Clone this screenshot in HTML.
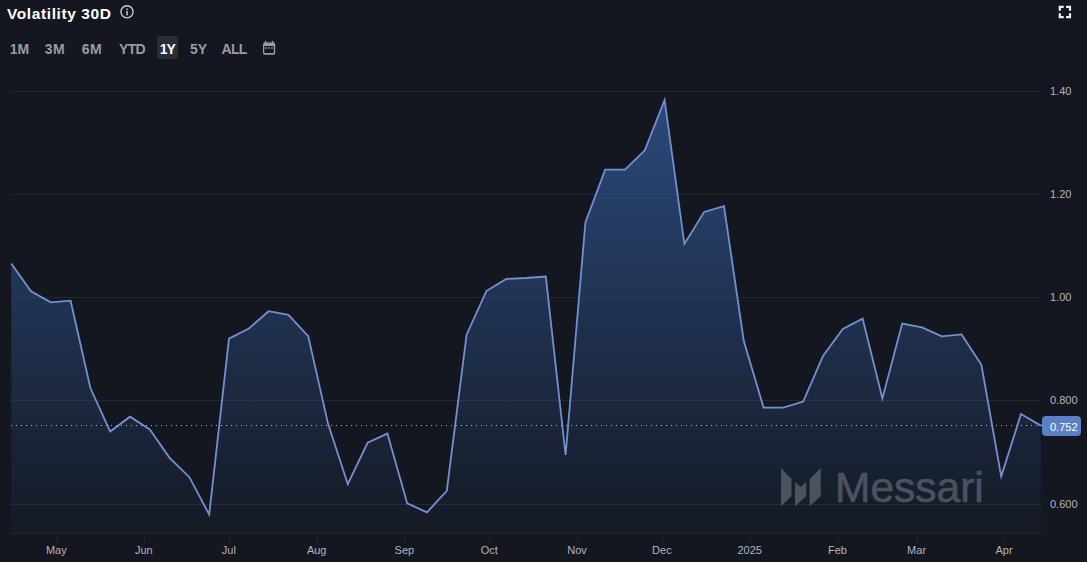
<!DOCTYPE html>
<html><head><meta charset="utf-8">
<style>
html,body{margin:0;padding:0;background:#14171f;}
body{width:1087px;height:562px;overflow:hidden;position:relative;font-family:"Liberation Sans",sans-serif;}
.title{position:absolute;left:7px;top:5px;font-size:15.5px;letter-spacing:0.6px;font-weight:bold;color:#ffffff;line-height:18px;white-space:nowrap;}
.info{position:absolute;left:120px;top:5px;}
.rb{position:absolute;top:38px;height:23px;line-height:23px;font-size:14px;font-weight:bold;color:#9a9ca3;text-align:center;}
.rb.act{color:#ffffff;}
.actbg{position:absolute;left:157px;top:36px;width:21px;height:23px;background:#2a2d35;border-radius:3px;}
.yl{position:absolute;left:1050px;font-size:11px;line-height:15px;color:#b2b5be;}
.xl{position:absolute;top:542.5px;width:60px;text-align:center;font-size:11px;line-height:15px;color:#b2b5be;}
.lbl{position:absolute;left:1042px;top:416px;width:39px;height:20px;border-radius:4px;background:#5b80c6;}
.lblt{position:absolute;left:1050px;top:419.5px;color:#fff;font-size:11px;line-height:15px;}
svg{position:absolute;left:0;top:0;}
.wm{position:absolute;left:835px;top:464px;font-size:42.5px;line-height:48px;color:#4a5260;-webkit-text-stroke:0.6px #4a5260;}
</style></head><body>
<svg width="1087" height="562">
<defs>
<linearGradient id="g" x1="0" y1="66" x2="0" y2="534" gradientUnits="userSpaceOnUse">
<stop offset="0" stop-color="#325a99" stop-opacity="0.8"/>
<stop offset="1" stop-color="#325a99" stop-opacity="0.04"/>
</linearGradient>
</defs>
<line x1="11" y1="91.5" x2="1041" y2="91.5" stroke="#252830" stroke-width="1"/><line x1="11" y1="194.5" x2="1041" y2="194.5" stroke="#252830" stroke-width="1"/><line x1="11" y1="297.5" x2="1041" y2="297.5" stroke="#252830" stroke-width="1"/><line x1="11" y1="400.5" x2="1041" y2="400.5" stroke="#252830" stroke-width="1"/><line x1="11" y1="504.5" x2="1041" y2="504.5" stroke="#252830" stroke-width="1"/>
<path d="M11.2,534 L11.2,263.5 L31.0,291.2 L50.8,302.4 L70.6,300.7 L90.4,388.0 L110.2,431.5 L130.0,416.7 L149.8,429.4 L169.6,457.8 L189.4,477.2 L209.2,514.6 L229.0,338.6 L248.8,328.6 L268.6,311.2 L288.4,314.9 L308.2,336.1 L328.0,423.6 L347.8,484.2 L367.6,442.8 L387.4,433.6 L407.2,503.4 L427.0,512.3 L446.8,490.9 L466.6,334.7 L486.4,291.1 L506.2,278.9 L526.0,278.0 L545.8,276.5 L565.6,455.0 L585.4,222.5 L605.2,169.7 L625.0,169.7 L644.8,150.3 L664.6,100.0 L684.4,244.0 L704.2,211.9 L724.0,206.2 L743.8,341.1 L763.6,407.6 L783.4,407.6 L803.2,401.6 L823.0,356.0 L842.8,329.0 L862.6,318.6 L882.4,398.4 L902.2,323.6 L922.0,327.4 L941.8,336.4 L961.6,334.4 L981.4,364.8 L1001.2,476.5 L1021.0,414.0 L1040.8,425.6 L1040.8,534 Z" fill="url(#g)"/>
<line x1="1041" y1="534.5" x2="1041" y2="534.5" stroke="#2a2e37"/>
<line x1="11" y1="533.5" x2="1041" y2="533.5" stroke="#20242c" stroke-width="1"/>
<line x1="56.9" y1="536" x2="56.9" y2="543" stroke="#23272f" stroke-width="1"/><line x1="144.4" y1="536" x2="144.4" y2="543" stroke="#23272f" stroke-width="1"/><line x1="229.4" y1="536" x2="229.4" y2="543" stroke="#23272f" stroke-width="1"/><line x1="317.3" y1="536" x2="317.3" y2="543" stroke="#23272f" stroke-width="1"/><line x1="405.0" y1="536" x2="405.0" y2="543" stroke="#23272f" stroke-width="1"/><line x1="489.9" y1="536" x2="489.9" y2="543" stroke="#23272f" stroke-width="1"/><line x1="577.6" y1="536" x2="577.6" y2="543" stroke="#23272f" stroke-width="1"/><line x1="662.5" y1="536" x2="662.5" y2="543" stroke="#23272f" stroke-width="1"/><line x1="750.3" y1="536" x2="750.3" y2="543" stroke="#23272f" stroke-width="1"/><line x1="838.0" y1="536" x2="838.0" y2="543" stroke="#23272f" stroke-width="1"/><line x1="917.2" y1="536" x2="917.2" y2="543" stroke="#23272f" stroke-width="1"/><line x1="1004.6" y1="536" x2="1004.6" y2="543" stroke="#23272f" stroke-width="1"/>
<g fill="#4b5361">
<path d="M781,468 L791.5,479 L791.5,496 L781,506.5 Z"/>
<path d="M795,482 L800.6,487 L806.2,482 L806.2,496 L795,506.5 Z"/>
<path d="M809.6,479 L820.7,468 L820.7,496 L809.6,506.5 Z"/>
</g>
<path d="M11,425.5 H1041" stroke="#a8b0c2" stroke-width="1" stroke-dasharray="1 4"/>
<polyline points="11.2,263.5 31.0,291.2 50.8,302.4 70.6,300.7 90.4,388.0 110.2,431.5 130.0,416.7 149.8,429.4 169.6,457.8 189.4,477.2 209.2,514.6 229.0,338.6 248.8,328.6 268.6,311.2 288.4,314.9 308.2,336.1 328.0,423.6 347.8,484.2 367.6,442.8 387.4,433.6 407.2,503.4 427.0,512.3 446.8,490.9 466.6,334.7 486.4,291.1 506.2,278.9 526.0,278.0 545.8,276.5 565.6,455.0 585.4,222.5 605.2,169.7 625.0,169.7 644.8,150.3 664.6,100.0 684.4,244.0 704.2,211.9 724.0,206.2 743.8,341.1 763.6,407.6 783.4,407.6 803.2,401.6 823.0,356.0 842.8,329.0 862.6,318.6 882.4,398.4 902.2,323.6 922.0,327.4 941.8,336.4 961.6,334.4 981.4,364.8 1001.2,476.5 1021.0,414.0 1040.8,425.6" fill="none" stroke="#7391d2" stroke-width="1.8" stroke-linejoin="miter" stroke-miterlimit="10"/>
<line x1="1041" y1="425.5" x2="1046" y2="425.5" stroke="#7391d2" stroke-width="1.8"/>
<!-- fullscreen icon -->
<g fill="#f0f0f0">
<path d="M1058.7,5.8 h5 v2.2 h-2.8 v2.8 h-2.2 Z"/>
<path d="M1071.1,5.8 h-5 v2.2 h2.8 v2.8 h2.2 Z"/>
<path d="M1058.7,18.2 h5 v-2.2 h-2.8 v-2.8 h-2.2 Z"/>
<path d="M1071.1,18.2 h-5 v-2.2 h2.8 v-2.8 h2.2 Z"/>
</g>
<!-- info icon -->
<circle cx="127" cy="11.8" r="6.1" fill="none" stroke="#c9cbd0" stroke-width="1.4"/>
<rect x="126.3" y="11" width="1.5" height="4.3" fill="#c9cbd0"/>
<rect x="126.3" y="8.6" width="1.5" height="1.5" fill="#c9cbd0"/>
<!-- calendar icon -->
<g fill="#9a9ca3">
<rect x="263" y="42.4" width="12.2" height="12.4" rx="2"/>
<rect x="264.8" y="40.9" width="1.5" height="3"/>
<rect x="271.8" y="40.9" width="1.5" height="3"/>
</g>
<rect x="264.3" y="46" width="9.5" height="7" fill="#14171f"/>
<g fill="#9a9ca3"><rect x="265.2" y="47.2" width="1.6" height="1.6"/><rect x="268.2" y="47.2" width="1.6" height="1.6"/><rect x="271.2" y="47.2" width="1.6" height="1.6"/></g>
</svg>
<div class="title">Volatility 30D</div>
<div class="rb" style="left:8px;width:23px">1M</div>
<div class="rb" style="left:43px;width:24px;letter-spacing:0.6px">3M</div>
<div class="rb" style="left:80px;width:24px;letter-spacing:0.6px">6M</div>
<div class="rb" style="left:117px;width:30px;letter-spacing:-0.6px">YTD</div>
<div class="actbg"></div><div class="rb act" style="left:157px;width:21px;letter-spacing:-1.2px;text-indent:-0.6px">1Y</div>
<div class="rb" style="left:188px;width:21px">5Y</div>
<div class="rb" style="left:220px;width:28px;letter-spacing:-0.8px">ALL</div>
<div class="wm">Messari</div>
<div class="yl" style="top:84.2px">1.40</div><div class="yl" style="top:187.2px">1.20</div><div class="yl" style="top:290.2px">1.00</div><div class="yl" style="top:393.2px">0.800</div><div class="yl" style="top:497.2px">0.600</div>
<div class="xl" style="left:26.3px">May</div><div class="xl" style="left:113.8px">Jun</div><div class="xl" style="left:198.8px">Jul</div><div class="xl" style="left:286.7px">Aug</div><div class="xl" style="left:374.4px">Sep</div><div class="xl" style="left:459.3px">Oct</div><div class="xl" style="left:547.0px">Nov</div><div class="xl" style="left:631.9px">Dec</div><div class="xl" style="left:719.7px">2025</div><div class="xl" style="left:807.4px">Feb</div><div class="xl" style="left:886.6px">Mar</div><div class="xl" style="left:974.0px">Apr</div>
<div class="lbl"></div><div class="lblt">0.752</div>
</body></html>
